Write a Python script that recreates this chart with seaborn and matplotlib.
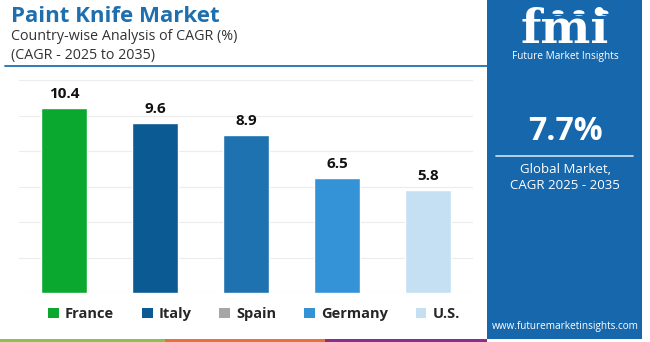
import matplotlib
matplotlib.use("Agg")
import matplotlib.pyplot as plt
from matplotlib.patches import Rectangle, Patch, Circle
from matplotlib.lines import Line2D
import seaborn as sns
import pandas as pd

countries = ["France", "Italy", "Spain", "Germany", "U.S."]
cagr = [10.4, 9.6, 8.9, 6.5, 5.8]
bar_colors = ["#0aa82e", "#0b5a94", "#1f72b0", "#3393d6", "#c5e0f3"]
legend_colors = ["#0aa82e", "#0b5a94", "#a6a6a6", "#3393d6", "#c5e0f3"]
global_cagr = "7.7%"

sns.set_theme(style="white")
plt.rcParams["font.family"] = ["Open Sans", "DejaVu Sans"]

W, H = 650, 342
fig = plt.figure(figsize=(6.5, 3.42), dpi=100)
fig.patch.set_facecolor("white")

def fx(x):
    return x / W

def fy(y):
    return 1 - y / H

df = pd.DataFrame({"country": countries, "cagr": cagr})

ax = fig.add_axes([fx(18.5), fy(293), fx(455), (293 - 80) / H])
sns.barplot(data=df, x="country", y="cagr", hue="country", palette=bar_colors,
            order=countries, hue_order=countries, dodge=False, width=0.5,
            saturation=1, legend=False, ax=ax)
ax.set_xlim(-0.5, 4.5)
ax.set_ylim(0, 12)
ax.set_yticks([0, 2, 4, 6, 8, 10, 12])
ax.yaxis.grid(True, color="#ececec", linewidth=0.8)
ax.set_axisbelow(True)
ax.tick_params(left=False, bottom=False, labelleft=False, labelbottom=False)
ax.set_xlabel("")
ax.set_ylabel("")
for s in ax.spines.values():
    s.set_visible(False)
for i, v in enumerate(cagr):
    ax.annotate(f"{v}", (i, v), xytext=(0, 5), textcoords="offset points",
                ha="center", va="bottom", fontsize=11, fontweight="bold", color="#111111")

handles = [Patch(facecolor=c, edgecolor="none") for c in legend_colors]
fig.legend(handles, countries, loc="center", bbox_to_anchor=(fx(254), fy(314)),
           ncol=5, frameon=False, handlelength=0.75, handleheight=0.75,
           handletextpad=0.4, columnspacing=1.9,
           prop={"weight": "bold", "size": 10.5})

# titles
fig.text(fx(11), fy(16), "Paint Knife Market", fontsize=16, fontweight="bold",
         color="#1f6fae", ha="left", va="center")
fig.text(fx(11), fy(37), "Country-wise Analysis of CAGR (%)", fontsize=10.3,
         color="#333333", ha="left", va="center")
fig.text(fx(11), fy(56), "(CAGR - 2025 to 2035)", fontsize=10.3,
         color="#333333", ha="left", va="center")
fig.add_artist(Line2D([fx(5), fx(487)], [fy(66), fy(66)], color="#1f6fae", lw=1.3))

# right panel
panel = "#1767ac"
fig.add_artist(Rectangle((fx(487), fy(339)), fx(155), 339 / H, facecolor=panel,
                         edgecolor="none", transform=fig.transFigure))
fig.text(fx(565), fy(30), "fmi", fontsize=34, fontweight="bold", family="DejaVu Serif",
         color="white", ha="center", va="center")
for yy in range(14, 48, 4):
    fig.add_artist(Line2D([fx(505), fx(625)], [fy(yy), fy(yy)], color=panel, lw=0.9))
for cx in (558, 579, 603):
    fig.add_artist(Circle((fx(cx), fy(13)), 0.0085, facecolor="white", edgecolor="none",
                          transform=fig.transFigure))
fig.text(fx(565), fy(57), "Future Market Insights", fontsize=7.3, color="white",
         ha="center", va="center")
fig.text(fx(565), fy(131), global_cagr, fontsize=23, fontweight="bold", color="white",
         ha="center", va="center")
fig.add_artist(Line2D([fx(496), fx(633)], [fy(156), fy(156)], color="#cfe3f5", lw=1.2))
fig.text(fx(565), fy(170), "Global Market,", fontsize=9.5, color="white",
         ha="center", va="center")
fig.text(fx(565), fy(185), "CAGR 2025 - 2035", fontsize=9.5, color="white",
         ha="center", va="center")
fig.text(fx(565), fy(326), "www.futuremarketinsights.com", fontsize=7.2, color="white",
         ha="center", va="center")

# bottom strip
for x0, x1, c in [(0, 165, "#8cc152"), (165, 325, "#e8703a"), (325, 487, "#8e2c8e")]:
    fig.add_artist(Rectangle((fx(x0), fy(342)), fx(x1 - x0), 3.5 / H, facecolor=c,
                             edgecolor="none", transform=fig.transFigure))

fig.savefig("out.png", dpi=100, facecolor="white")
